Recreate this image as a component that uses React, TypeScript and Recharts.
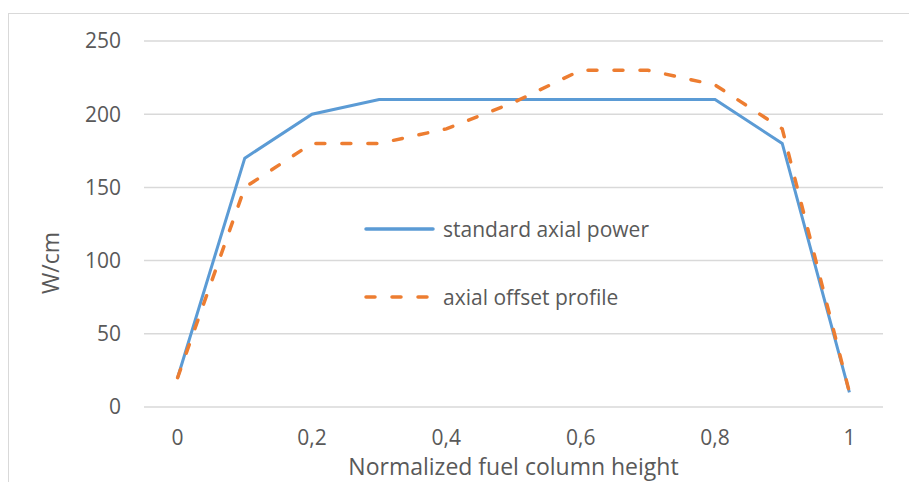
import { LineChart, Line, XAxis, YAxis, CartesianGrid, Legend } from "recharts";

const heights = [0, 0.1, 0.2, 0.3, 0.4, 0.5, 0.6, 0.7, 0.8, 0.9, 1];
const standardPower = [20, 170, 200, 210, 210, 210, 210, 210, 210, 180, 10];
const offsetProfile = [20, 150, 180, 180, 190, 208, 230, 230, 220, 190, 10];
const xTicks = [0, 0.2, 0.4, 0.6, 0.8, 1];
const yTicks = [0, 50, 100, 150, 200, 250];

const BLUE = "#5B9BD5";
const ORANGE = "#ED7D31";
const TEXT = "#595959";
const FONT = "'Open Sans', Lato, sans-serif";

const data = heights.map((h, i) => ({
  h,
  standard: standardPower[i],
  offset: offsetProfile[i],
}));

const seriesOrder = ["standard", "offset"];

const LegendBox = ({ payload }: any) => {
  const items = [...(payload ?? [])].sort(
    (a: any, b: any) => seriesOrder.indexOf(a.dataKey) - seriesOrder.indexOf(b.dataKey)
  );
  return (
    <div style={{ fontFamily: FONT, fontSize: 21, color: TEXT }}>
      {items.map((item: any, i: number) => (
        <div
          key={item.value}
          style={{ display: "flex", alignItems: "center", height: 28, marginBottom: i === 0 ? 40 : 0 }}
        >
          <svg width={76} height={10} style={{ marginRight: 4 }}>
            <line
              x1={3}
              y1={5}
              x2={70}
              y2={5}
              stroke={item.color}
              strokeWidth={3.5}
              strokeLinecap="round"
              strokeDasharray={item.dataKey === "offset" ? "9 17" : undefined}
            />
          </svg>
          <span>{item.value}</span>
        </div>
      ))}
    </div>
  );
};

// y-axis title, sits a bit below the plot's middle like in the original
const YTitle = () => (
  <text
    x={42}
    y={255}
    transform="rotate(-90, 42, 255)"
    textAnchor="middle"
    dominantBaseline="central"
    fill={TEXT}
    fontSize={23}
    fontFamily={FONT}
  >
    W/cm
  </text>
);

export default function App() {
  return (
    <div style={{ position: "relative", width: 909, height: 474 }}>
      <style>{"html,body{overflow:hidden}"}</style>
      <div
        style={{
          position: "absolute",
          left: 0,
          top: 5,
          width: 909,
          height: 469,
          borderLeft: "1px solid #d9d9d9",
          borderTop: "1px solid #d9d9d9",
          boxSizing: "border-box",
        }}
      />
      <div style={{ position: "absolute", left: 0, top: 0 }}>
        <LineChart
          width={909}
          height={474}
          data={data}
          margin={{ top: 33, right: 34, left: 0, bottom: 0 }}
          style={{ fontFamily: FONT }}
        >
          <CartesianGrid vertical={false} stroke="#d9d9d9" strokeWidth={1.5} />
          <XAxis
            dataKey="h"
            type="number"
            domain={[-0.05, 1.05]}
            ticks={xTicks}
            tickFormatter={(v: number) => String(v).replace(".", ",")}
            axisLine={false}
            tickLine={false}
            tickSize={0}
            tickMargin={23}
            height={75}
            tick={{ fill: TEXT, fontSize: 21 }}
            label={{
              value: "Normalized fuel column height",
              position: "insideBottom",
              offset: 7,
              fill: TEXT,
              fontSize: 23,
            }}
          />
          <YAxis
            domain={[0, 250]}
            ticks={yTicks}
            axisLine={false}
            tickLine={false}
            tickSize={0}
            tickMargin={23}
            width={136}
            tick={{ fill: TEXT, fontSize: 21 }}
            label={<YTitle />}
          />
          <Legend
            layout="horizontal"
            verticalAlign="middle"
            align="center"
            content={<LegendBox />}
            wrapperStyle={{ left: 355, top: 207, width: 340 }}
          />
          <Line
            type="linear"
            dataKey="standard"
            name="standard axial power"
            stroke={BLUE}
            strokeWidth={3}
            dot={false}
            isAnimationActive={false}
          />
          <Line
            type="linear"
            dataKey="offset"
            name="axial offset profile"
            stroke={ORANGE}
            strokeWidth={3.5}
            strokeDasharray="9 17"
            strokeLinecap="round"
            dot={false}
            isAnimationActive={false}
          />
        </LineChart>
      </div>
    </div>
  );
}
